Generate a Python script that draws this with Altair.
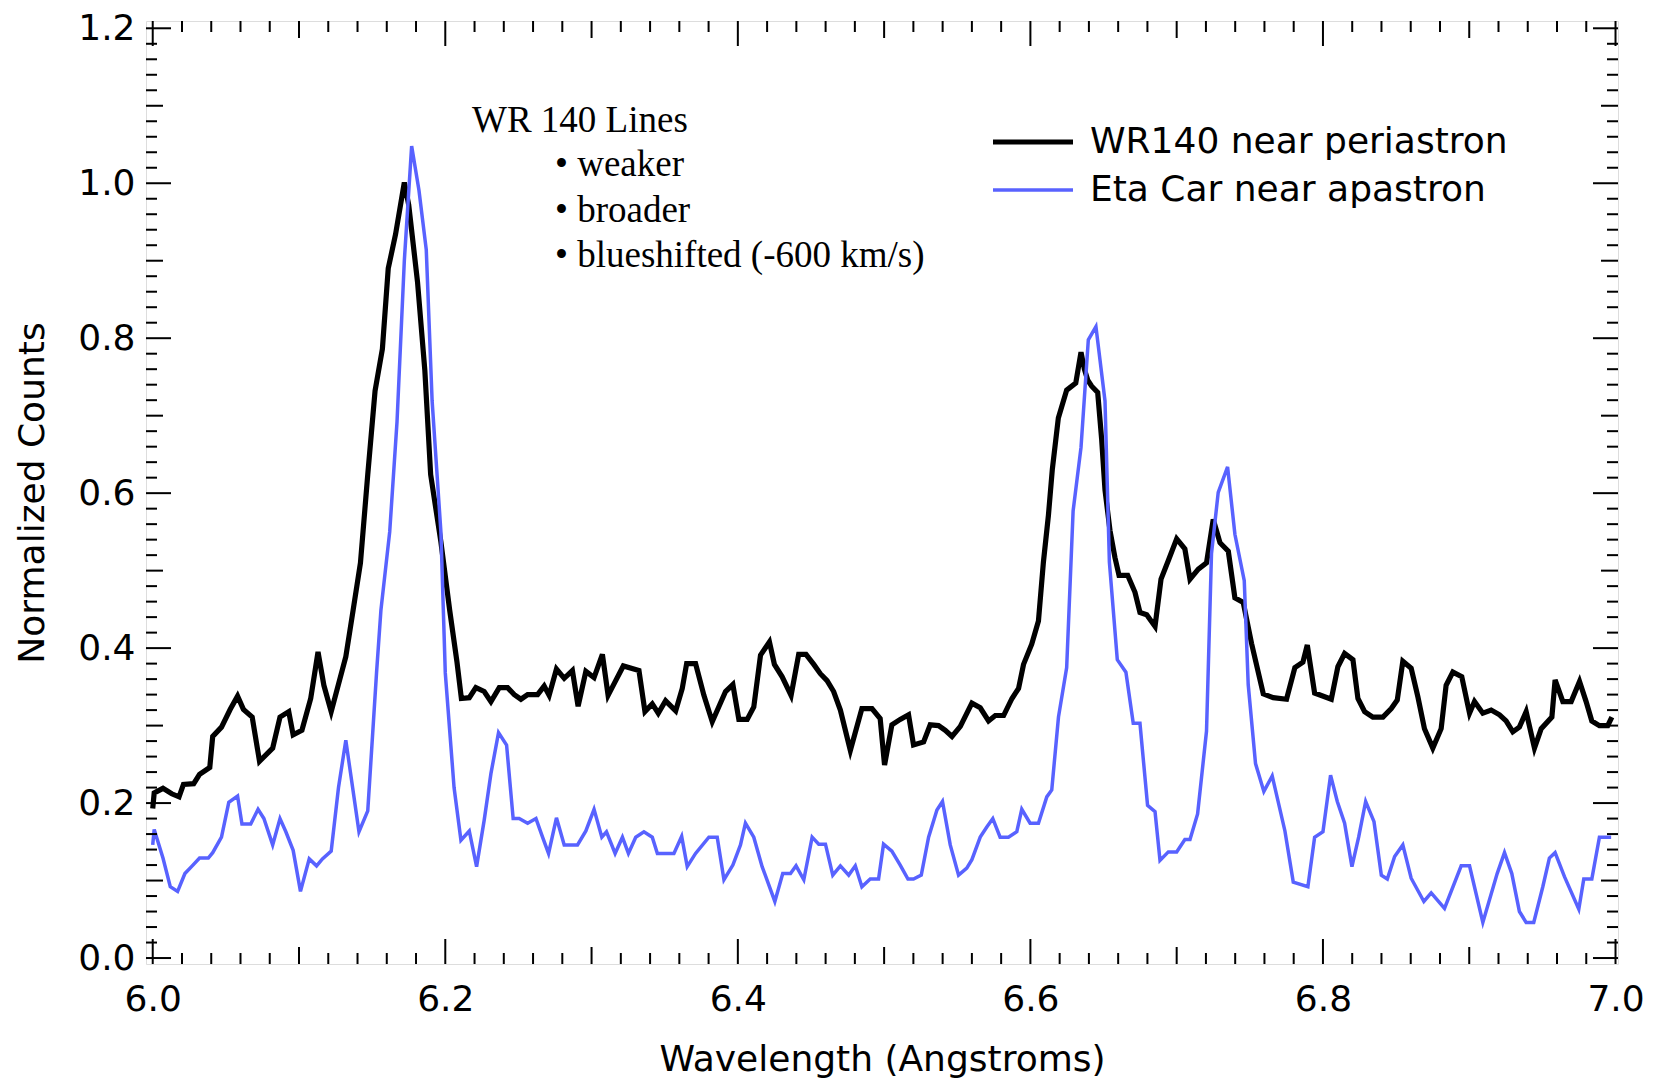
import altair as alt
import pandas as pd

# ---------------- data ----------------
wr140_wavelength = [
    6.000, 6.001, 6.007, 6.013, 6.018, 6.021, 6.028, 6.032, 6.039, 6.041, 6.047, 6.053, 6.058,
    6.062, 6.068, 6.073, 6.082, 6.087, 6.093, 6.096, 6.102, 6.108, 6.113, 6.117, 6.122, 6.132,
    6.137, 6.142, 6.147, 6.152, 6.157, 6.161, 6.166, 6.172, 6.175, 6.181, 6.186, 6.190, 6.197,
    6.203, 6.208, 6.211,
    6.2164, 6.2209, 6.2266, 6.2312, 6.2369, 6.2426, 6.2471, 6.2517, 6.2563, 6.2631, 6.2676,
    6.2710, 6.2760, 6.2813, 6.2869, 6.2908, 6.2961, 6.3017, 6.3074, 6.3113, 6.3165, 6.3217,
    6.3324, 6.3365, 6.3415, 6.3456, 6.3506, 6.3575, 6.3620, 6.3650, 6.3711, 6.3768, 6.3825,
    6.3916, 6.3966, 6.4007, 6.4064, 6.4109, 6.4155, 6.4216, 6.4250, 6.4303, 6.4364, 6.4416,
    6.4466, 6.4519, 6.4564, 6.4610, 6.4655, 6.4701,
    6.4769, 6.4848, 6.4917, 6.4973, 6.5003, 6.5053, 6.5110, 6.5167, 6.5201, 6.5270, 6.5315,
    6.5372, 6.5418, 6.5464, 6.5521, 6.5600, 6.5657, 6.5714, 6.5760, 6.5817, 6.5874, 6.5919,
    6.5953,
    6.6009, 6.6055, 6.6089, 6.6123, 6.6150, 6.6191, 6.6248, 6.6310, 6.6346, 6.6369, 6.6392,
    6.6419, 6.6460, 6.6487, 6.6510, 6.6544, 6.6578, 6.6606, 6.6665, 6.6715, 6.6749, 6.6795,
    6.6852, 6.6893, 6.6943, 6.7000, 6.7056, 6.7091, 6.7148, 6.7204, 6.7250, 6.7296, 6.7353,
    6.7398, 6.7455, 6.7512, 6.7592, 6.7660, 6.7751, 6.7808,
    6.7863, 6.7893, 6.7943, 6.8057, 6.8102, 6.8148, 6.8205, 6.8239, 6.8285, 6.8341, 6.8410,
    6.8467, 6.8508, 6.8546, 6.8603, 6.8649, 6.8694, 6.8751, 6.8808, 6.8842, 6.8888, 6.8949,
    6.9002, 6.9036, 6.9093, 6.9150, 6.9207, 6.9252, 6.9298, 6.9343, 6.9389, 6.9446, 6.9492,
    6.9565, 6.9587, 6.9640, 6.9697, 6.9754, 6.9799, 6.9838, 6.9890, 6.9947, 6.9975,
]
wr140_counts = [
    0.193, 0.213, 0.219, 0.212, 0.208, 0.224, 0.225, 0.237, 0.246, 0.286, 0.298, 0.321, 0.338,
    0.321, 0.311, 0.254, 0.271, 0.311, 0.318, 0.288, 0.294, 0.335, 0.395, 0.352, 0.318, 0.389,
    0.449, 0.510, 0.624, 0.732, 0.786, 0.890, 0.934, 1.001, 0.972, 0.873, 0.759, 0.624, 0.537,
    0.449, 0.382, 0.335,
    0.336, 0.349, 0.344, 0.331, 0.349, 0.349, 0.340, 0.334, 0.340, 0.340, 0.351,
    0.339, 0.373, 0.361, 0.371, 0.325, 0.370, 0.362, 0.392, 0.339, 0.358, 0.377,
    0.371, 0.318, 0.328, 0.316, 0.332, 0.319, 0.348, 0.380, 0.380, 0.339, 0.305,
    0.344, 0.353, 0.308, 0.308, 0.324, 0.391, 0.408, 0.379, 0.363, 0.339, 0.392,
    0.392, 0.379, 0.367, 0.358, 0.344, 0.320,
    0.268, 0.322, 0.322, 0.309, 0.249, 0.301, 0.308, 0.314, 0.275, 0.279, 0.301,
    0.300, 0.294, 0.286, 0.299, 0.329, 0.323, 0.306, 0.313, 0.313, 0.335, 0.348,
    0.379,
    0.405, 0.435, 0.511, 0.571, 0.631, 0.697, 0.733, 0.742, 0.782, 0.760, 0.746,
    0.738, 0.730, 0.670, 0.604, 0.552, 0.517, 0.494, 0.494, 0.472, 0.446, 0.443,
    0.428, 0.489, 0.513, 0.541, 0.528, 0.489, 0.502, 0.510, 0.566, 0.536, 0.525,
    0.465, 0.459, 0.406, 0.341, 0.336, 0.334, 0.375,
    0.382, 0.404, 0.342, 0.334, 0.376, 0.393, 0.385, 0.335, 0.318, 0.311, 0.311,
    0.322, 0.333, 0.383, 0.374, 0.337, 0.296, 0.271, 0.296, 0.352, 0.369, 0.363,
    0.316, 0.331, 0.316, 0.320, 0.314, 0.306, 0.292, 0.298, 0.318, 0.271, 0.296,
    0.311, 0.359, 0.331, 0.331, 0.357, 0.331, 0.306, 0.300, 0.300, 0.311,
]

etacar_wavelength = [
    6.000, 6.001, 6.007, 6.012, 6.017, 6.022, 6.027, 6.032, 6.038, 6.041, 6.047, 6.052, 6.058,
    6.061, 6.067, 6.072, 6.076, 6.082, 6.087, 6.091, 6.096, 6.101, 6.107, 6.112, 6.116, 6.122,
    6.127, 6.132, 6.141, 6.147, 6.153, 6.156, 6.162, 6.167, 6.172, 6.177, 6.182, 6.187, 6.191,
    6.197, 6.200, 6.206,
    6.2107, 6.2164, 6.2214, 6.2266, 6.2312, 6.2364, 6.2419, 6.2464, 6.2505, 6.2563, 6.2620,
    6.2665, 6.2706, 6.2760, 6.2813, 6.2904, 6.2961, 6.3017, 6.3070, 6.3102, 6.3161, 6.3211,
    6.3252, 6.3302, 6.3358, 6.3415, 6.3450, 6.3563, 6.3616, 6.3654, 6.3711, 6.3802, 6.3859,
    6.3905, 6.3966, 6.4018, 6.4052, 6.4109, 6.4166, 6.4253, 6.4307, 6.4360, 6.4398, 6.4451,
    6.4508, 6.4553, 6.4599, 6.4649, 6.4701, 6.4758, 6.4803,
    6.4848, 6.4905, 6.4962, 6.4996, 6.5053, 6.5110, 6.5163, 6.5201, 6.5254, 6.5304, 6.5361,
    6.5399, 6.5452, 6.5509, 6.5565, 6.5600, 6.5657, 6.5702, 6.5743, 6.5793, 6.5850, 6.5907,
    6.5941, 6.5998, 6.6055, 6.6112, 6.6146, 6.6192,
    6.6248, 6.6292, 6.6346, 6.6396, 6.6448, 6.6510, 6.6540, 6.6594, 6.6653, 6.6703, 6.6749,
    6.6801, 6.6852, 6.6886, 6.6943, 6.7000, 6.7056, 6.7091, 6.7143, 6.7204, 6.7238, 6.7284,
    6.7348, 6.7398, 6.7462, 6.7489, 6.7539, 6.7596, 6.7653, 6.7740, 6.7797,
    6.7897, 6.7943, 6.8000, 6.8052, 6.8098, 6.8148, 6.8198, 6.8244, 6.8292, 6.8349, 6.8399,
    6.8440, 6.8490, 6.8546, 6.8603, 6.8690, 6.8740, 6.8831, 6.8945, 6.9002, 6.9093, 6.9191,
    6.9241, 6.9291, 6.9343, 6.9389, 6.9441, 6.9503, 6.9548, 6.9587, 6.9651, 6.9749, 6.9783,
    6.9838, 6.9890, 6.9970,
]
etacar_counts = [
    0.146, 0.166, 0.129, 0.092, 0.086, 0.109, 0.119, 0.129, 0.129, 0.136, 0.156, 0.201, 0.209,
    0.173, 0.173, 0.192, 0.180, 0.146, 0.180, 0.163, 0.139, 0.086, 0.128, 0.119, 0.128, 0.138,
    0.220, 0.281, 0.163, 0.190, 0.368, 0.449, 0.550, 0.692, 0.900, 1.048, 0.991, 0.914, 0.719,
    0.550, 0.368, 0.220,
    0.152, 0.164, 0.118, 0.178, 0.238, 0.291, 0.275, 0.180, 0.180, 0.174, 0.180,
    0.156, 0.135, 0.181, 0.146, 0.146, 0.164, 0.192, 0.156, 0.163, 0.135, 0.156,
    0.135, 0.156, 0.163, 0.156, 0.135, 0.135, 0.157, 0.118, 0.135, 0.156, 0.156,
    0.101, 0.120, 0.146, 0.174, 0.156, 0.118, 0.073, 0.109, 0.109, 0.119, 0.101,
    0.156, 0.147, 0.147, 0.107, 0.119, 0.107, 0.119,
    0.092, 0.102, 0.102, 0.147, 0.138, 0.120, 0.102, 0.102, 0.107, 0.156, 0.191,
    0.202, 0.146, 0.107, 0.116, 0.127, 0.156, 0.169, 0.180, 0.156, 0.156, 0.163,
    0.192, 0.174, 0.174, 0.208, 0.217, 0.311,
    0.375, 0.577, 0.659, 0.798, 0.815, 0.719, 0.511, 0.385, 0.369, 0.303, 0.303,
    0.197, 0.189, 0.126, 0.137, 0.137, 0.153, 0.153, 0.186, 0.293, 0.522, 0.601,
    0.634, 0.547, 0.487, 0.353, 0.251, 0.215, 0.235, 0.164, 0.098,
    0.092, 0.156, 0.163, 0.236, 0.202, 0.174, 0.118, 0.156, 0.202, 0.176, 0.107,
    0.102, 0.131, 0.146, 0.103, 0.073, 0.084, 0.064, 0.119, 0.119, 0.046, 0.109,
    0.136, 0.109, 0.060, 0.046, 0.046, 0.092, 0.129, 0.136, 0.105, 0.063, 0.102,
    0.102, 0.156, 0.156,
]

series_names = ["WR140 near periastron", "Eta Car near apastron"]

x_label_values = [6.0, 6.2, 6.4, 6.6, 6.8, 7.0]
x_mid_ticks = [6.1, 6.3, 6.5, 6.7, 6.9]
x_minor_ticks = [round(6.0 + 0.02 * i, 2) for i in range(51) if i % 5 != 0]
y_label_values = [0.0, 0.2, 0.4, 0.6, 0.8, 1.0, 1.2]
y_mid_ticks = [0.1, 0.3, 0.5, 0.7, 0.9, 1.1]
y_minor_ticks = [round(0.02 * i, 2) for i in range(61) if i % 5 != 0]

note_title = "WR 140 Lines"
note_items = ["• weaker", "• broader", "• blueshifted (-600 km/s)"]

# ---------------- styling ----------------
W, H = 1472, 943
FONT = "DejaVu Sans"
series_colors = ["#000000", "#5862FF"]
series_widths = [5.2, 3.5]

xscale = alt.Scale(domain=[5.9954, 7.0017], nice=False, zero=False)
yscale = alt.Scale(domain=[-0.0077, 1.2094], nice=False, zero=False)

df = pd.concat([
    pd.DataFrame({"wavelength": wr140_wavelength, "counts": wr140_counts, "series": series_names[0]}),
    pd.DataFrame({"wavelength": etacar_wavelength, "counts": etacar_counts, "series": series_names[1]}),
], ignore_index=True)

legend = alt.Legend(
    title=None, orient="none", legendX=869, legendY=103, padding=0,
    symbolType="M-4,0H4", symbolSize=400, labelFont=FONT, labelFontSize=36,
    labelColor="black", labelOffset=39, rowPadding=12, labelLimit=900,
)

x_axis = alt.Axis(
    values=x_label_values, format=".1f", ticks=False, tickSize=0, domain=False, grid=False,
    labelFont=FONT, labelFontSize=36, labelColor="black", labelPadding=18,
    labelFlush=False, labelOverlap=False,
    title="Wavelength (Angstroms)", titleFont=FONT, titleFontSize=36, titleFontWeight="normal",
    titleColor="black", titleBaseline="alphabetic", titleY=106, titleX=W / 2,
)
y_axis = alt.Axis(
    values=y_label_values, format=".1f", ticks=False, tickSize=0, domain=False, grid=False,
    labelFont=FONT, labelFontSize=36, labelColor="black", labelPadding=11,
    labelFlush=False, labelOverlap=False,
    title="Normalized Counts", titleFont=FONT, titleFontSize=36, titleFontWeight="normal",
    titleColor="black", titleBaseline="alphabetic", titleAngle=270, titleAlign="center",
    titleX=-103, titleY=H / 2,
)


def line_layer(name):
    return alt.Chart(df).transform_filter(alt.datum.series == name).mark_line(
        strokeJoin="miter", strokeCap="butt"
    ).encode(
        x=alt.X("wavelength:Q", scale=xscale, axis=x_axis),
        y=alt.Y("counts:Q", scale=yscale, axis=y_axis),
        color=alt.Color("series:N", scale=alt.Scale(domain=series_names, range=series_colors), legend=legend),
        strokeWidth=alt.StrokeWidth(
            "series:N",
            scale=alt.Scale(type="point", padding=0, domain=series_names, range=series_widths),
            legend=legend,
        ),
    )


def xticks(values, length):
    d = pd.DataFrame({"wavelength": values})
    base = alt.Chart(d).mark_rule(color="black", strokeWidth=2)
    x = alt.X("wavelength:Q", scale=xscale, axis=x_axis)
    bottom = base.encode(x=x, y=alt.value(H), y2=alt.value(H - length))
    top = base.encode(x=x, y=alt.value(0), y2=alt.value(length))
    return [bottom, top]


def yticks(values, length):
    d = pd.DataFrame({"counts": values})
    base = alt.Chart(d).mark_rule(color="black", strokeWidth=2)
    y = alt.Y("counts:Q", scale=yscale, axis=y_axis)
    left = base.encode(y=y, x=alt.value(0), x2=alt.value(length))
    right = base.encode(y=y, x=alt.value(W), x2=alt.value(W - length))
    return [left, right]


tick_layers = (
    xticks(x_minor_ticks, 11) + xticks(x_mid_ticks, 17) + xticks(x_label_values, 25)
    + yticks(y_minor_ticks, 11) + yticks(y_mid_ticks, 17) + yticks(y_label_values, 25)
)

text_style = dict(align="left", baseline="alphabetic", font="Liberation Serif", fontSize=37, color="black")
note_layers = [
    alt.Chart(pd.DataFrame({"t": [note_title]})).mark_text(**text_style).encode(
        x=alt.value(326), y=alt.value(111), text="t:N")
]
for i, item in enumerate(note_items):
    note_layers.append(
        alt.Chart(pd.DataFrame({"t": [item]})).mark_text(**text_style).encode(
            x=alt.value(409), y=alt.value(155 + 45.5 * i), text="t:N")
    )

chart = alt.layer(
    line_layer(series_names[0]),
    line_layer(series_names[1]),
    *tick_layers,
    *note_layers,
).properties(
    width=W, height=H,
    autosize=alt.AutoSizeParams(type="none"),
    padding={"left": 146, "top": 21, "right": 36, "bottom": 118},
).configure_view(stroke="black", strokeWidth=2.5).configure(background="white")

chart.save("out.html", embed_options={"renderer": "svg", "actions": False})
